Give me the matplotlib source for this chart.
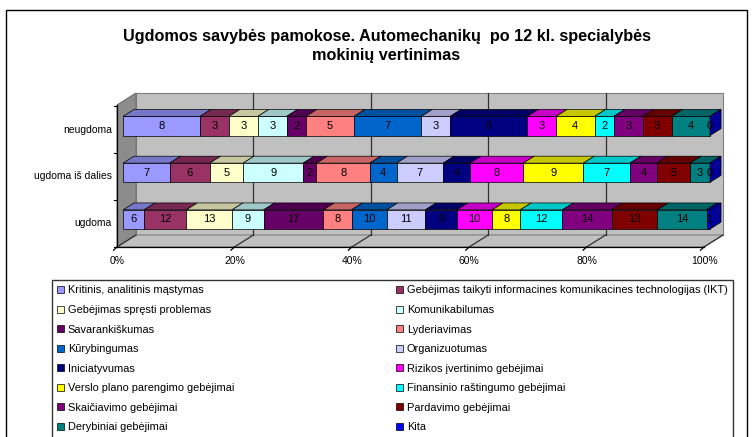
import matplotlib
matplotlib.use('Agg')
import matplotlib.pyplot as plt
from matplotlib.patches import Polygon, Rectangle
import matplotlib.colors as mcolors

plt.rcParams['font.family'] = ['Liberation Sans', 'DejaVu Sans']

# data (bottom to top)
categories = ['ugdoma', 'ugdoma iš dalies', 'neugdoma']
series = ['Kritinis, analitinis mąstymas',
          'Gebėjimas taikyti informacines komunikacines technologijas (IKT)',
          'Gebėjimas spręsti problemas', 'Komunikabilumas', 'Savarankiškumas',
          'Lyderiavimas', 'Kūrybingumas', 'Organizuotumas', 'Iniciatyvumas',
          'Rizikos įvertinimo gebėjimai', 'Verslo plano parengimo gebėjimai',
          'Finansinio raštingumo gebėjimai', 'Skaičiavimo gebėjimai',
          'Pardavimo gebėjimai', 'Derybiniai gebėjimai', 'Kita']
colors = ['#9999FF', '#993366', '#FFFFCC', '#CCFFFF', '#660066', '#FF8080',
          '#0066CC', '#CCCCFF', '#000080', '#FF00FF', '#FFFF00', '#00FFFF',
          '#800080', '#800000', '#008080', '#0000FF']
ugdoma = [6, 12, 13, 9, 17, 8, 10, 11, 9, 10, 8, 12, 14, 13, 14, 1]
is_dalies = [7, 6, 5, 9, 2, 8, 4, 7, 4, 8, 9, 7, 4, 5, 3, 0]
neugdoma = [8, 3, 3, 3, 2, 5, 7, 3, 8, 3, 4, 2, 3, 3, 4, 0]
values = [ugdoma, is_dalies, neugdoma]
xticks = [0, 20, 40, 60, 80, 100]

# oblique depth: px -> data units
PX_X = 1 / 5.87
PX_Y = 1 / 46.75
SLOPE = 0.63

def depth(d):
    return d * PX_X, d * SLOPE * PX_Y

bh = 0.41
y_floor = -0.507
y_top = 2.53
d_front, d_bar, d_wall = -6, 11, 13

def shade(c, f):
    r, g, b = mcolors.to_rgb(c)
    return (r * f, g * f, b * f)

fig = plt.figure(figsize=(7.52, 4.37), dpi=100)
ax = fig.add_axes([0.1402, 0.4229, 0.8274, 0.3691])
ax.set_xlim(-3, 103)
ax.set_ylim(-0.7, 2.75)
ax.axis('off')

# outer chart border
fig.patches.append(Rectangle((6 / 752, -0.05), 741 / 752, 1 - 10 / 437 + 0.05,
                             transform=fig.transFigure, fill=False,
                             edgecolor='black', linewidth=1.0))

fx, fy = depth(d_front)
wx, wy = depth(d_wall)
# back wall, left wall, floor
ax.add_patch(Polygon([(wx, y_floor + wy), (100 + wx, y_floor + wy),
                      (100 + wx, y_top + wy), (wx, y_top + wy)],
                     facecolor='#C0C0C0', edgecolor='#808080', linewidth=0.8))
ax.add_patch(Polygon([(fx, y_floor + fy), (wx, y_floor + wy), (wx, y_top + wy), (fx, y_top + fy)],
                     facecolor='#8C8C8C', edgecolor='#707070', linewidth=0.8))
ax.add_patch(Polygon([(fx, y_floor + fy), (100 + fx, y_floor + fy),
                      (100 + wx, y_floor + wy), (wx, y_floor + wy)],
                     facecolor='#C0C0C0', edgecolor='#808080', linewidth=0.8))
ax.plot([fx, fx], [y_floor + fy, y_top + fy], color='black', lw=0.9)
ax.plot([fx, 100 + fx], [y_floor + fy, y_floor + fy], color='black', lw=0.9)
for t in xticks[1:-1]:
    ax.plot([t + wx, t + wx], [y_floor + wy, y_top + wy], color='#303030', lw=0.9)
for t in xticks:
    ax.plot([t + fx, t + wx], [y_floor + fy, y_floor + wy], color='#303030', lw=0.9)
    ax.plot([t + fx, t + fx - 0.6], [y_floor + fy, y_floor + fy - 0.07], color='black', lw=0.9)
    ax.annotate(f'{t}%', (t + fx, y_floor + fy), xytext=(0, -10), textcoords='offset points',
                ha='center', va='center', fontsize=7.5)
for i in range(len(categories) + 1):
    yy = i - 0.5 + fy
    ax.plot([fx - 0.5, fx], [yy, yy], color='black', lw=0.8)

# bars
bx, by = depth(d_bar)
for i, vals in enumerate(values):
    total = sum(vals)
    left = 0
    y0 = i - bh / 2
    for j, v in enumerate(vals):
        w = v / total * 100
        ax.add_patch(Rectangle((left, y0), w, bh, facecolor=colors[j],
                               edgecolor='black', linewidth=0.5, zorder=3))
        ax.add_patch(Polygon([(left, y0 + bh), (left + w, y0 + bh),
                              (left + w + bx, y0 + bh + by), (left + bx, y0 + bh + by)],
                             facecolor=shade(colors[j], 0.78), edgecolor='black',
                             linewidth=0.5, zorder=3))
        if j == len(vals) - 1:
            ax.add_patch(Polygon([(left + w, y0), (left + w + bx, y0 + by),
                                  (left + w + bx, y0 + bh + by), (left + w, y0 + bh)],
                                 facecolor=shade(colors[j], 0.6), edgecolor='black',
                                 linewidth=0.5, zorder=3))
        ax.text(left + w / 2, i, str(v), ha='center', va='center', fontsize=8, zorder=4)
        left += w
    ax.text(fx - 0.9, i + fy, categories[i], ha='right', va='center', fontsize=7.5)

fig.text(0.514, 1 - 46 / 437, 'Ugdomos savybės pamokose. Automechanikų  po 12 kl. specialybės\nmokinių vertinimas',
         ha='center', va='center', fontsize=11.7, fontweight='bold', linespacing=1.35)

# legend, filled row by row
handles = [Rectangle((0, 0), 1, 1, facecolor=c, edgecolor='black', linewidth=0.5) for c in colors]
order = list(range(0, 16, 2)) + list(range(1, 16, 2))
fig.legend([handles[k] for k in order], [series[k] for k in order], ncol=2,
           loc='upper left', bbox_to_anchor=(52 / 752, 1 - 280 / 437, 681 / 752, 0.0),
           mode='expand', fontsize=7.9, frameon=True, fancybox=False,
           edgecolor='black', handlelength=0.6, handleheight=0.6, handletextpad=0.35,
           labelspacing=0.87, borderaxespad=0, borderpad=0.5)

fig.savefig('out.png', dpi=100)
